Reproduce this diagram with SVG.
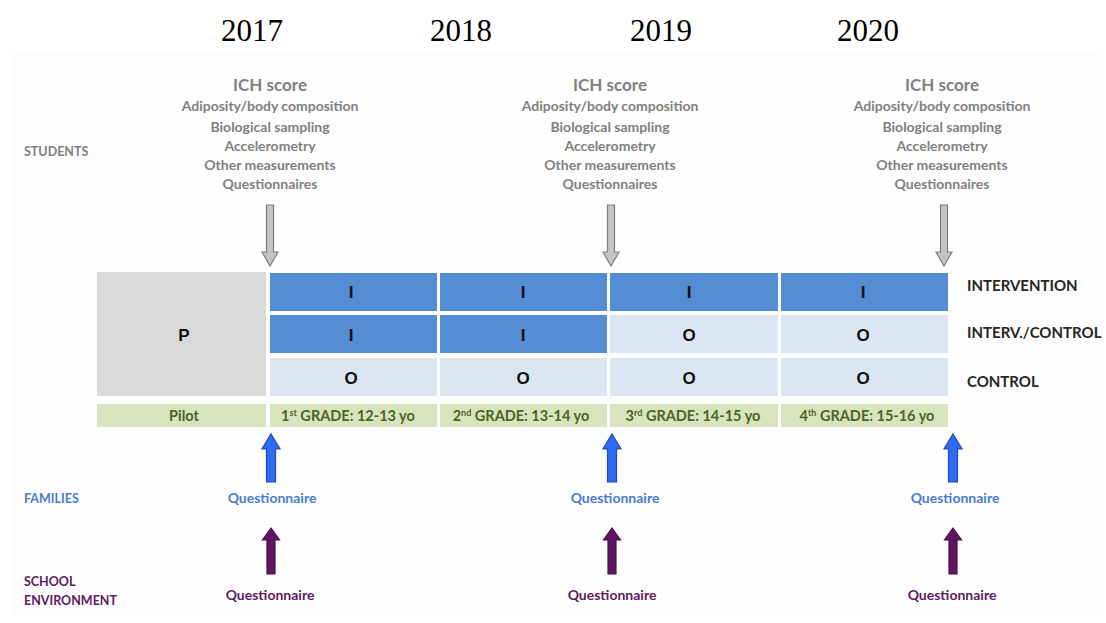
<svg xmlns="http://www.w3.org/2000/svg" width="1106" height="623" viewBox="0 0 1106 623">
<style>
.yr{font-family:"Liberation Serif","Times New Roman",serif;font-size:31px;fill:#000;text-anchor:middle}
.ich{font-family:Lato,"Liberation Sans",sans-serif;font-weight:bold;fill:#808080;text-anchor:middle}
.ich .h{font-size:17px}
.ich .l{font-size:14px}
.side{font-family:Lato,"Liberation Sans",sans-serif;font-weight:bold;font-size:12.5px}
.stu{fill:#7f7f7f}
.fam{fill:#4a7bd0}
.sch{fill:#5e1a5e}
.grp{font-family:Lato,"Liberation Sans",sans-serif;font-weight:bold;font-size:15px;fill:#262626}
.cell{font-family:"Liberation Sans",Arial,sans-serif;font-weight:bold;font-size:17px;fill:#111;text-anchor:middle}
.blue{fill:#548dd4}
.light{fill:#dce6f2}
.grey{fill:#d9d9d9}
.green{fill:#d7e4bd}
.gtxt{font-family:Lato,"Liberation Sans",sans-serif;font-weight:bold;font-size:14.5px;fill:#4f6228;text-anchor:middle}
.q{font-family:Lato,"Liberation Sans",sans-serif;font-weight:bold;font-size:14px;text-anchor:middle}
.ga{fill:#c4c4c4;stroke:#7f7f7f;stroke-width:1.2}
.ba{fill:#2f6cf2;stroke:#1f48b8;stroke-width:1.2}
.pa{fill:#5f1662;stroke:#4a0f4d;stroke-width:1.2}
</style>
<defs>
<path id="downArrow" d="M-3.5,-61 H3.5 V-14 H8 L0,0 L-8,-14 H-3.5 Z"/>
<path id="upBlue" d="M0,0 L9,15 H4.5 V48 H-4.5 V15 H-9 Z"/>
<path id="upPurple" d="M0,0 L8.5,12 H4 V46 H-4 V12 H-8.5 Z"/>
</defs>
<rect x="0" y="0" width="1106" height="623" fill="#ffffff"/>
<rect x="12" y="53" width="1090" height="563" fill="#fdfdfd"/>

<g id="years">
<text class="yr" x="252" y="41">2017</text>
<text class="yr" x="461" y="41">2018</text>
<text class="yr" x="661" y="41">2019</text>
<text class="yr" x="868" y="41">2020</text>
</g>

<g id="row-labels">
<text class="side stu" x="24" y="156">STUDENTS</text>
<text class="side fam" x="24" y="503">FAMILIES</text>
<text class="side sch" x="24" y="586">SCHOOL</text>
<text class="side sch" x="24" y="605">ENVIRONMENT</text>
</g>

<g id="measures-2017" class="ich">
<text class="h" x="270" y="91">ICH score</text>
<text class="l" x="270" y="111">Adiposity/body composition</text>
<text class="l" x="270" y="132">Biological sampling</text>
<text class="l" x="270" y="151">Accelerometry</text>
<text class="l" x="270" y="170">Other measurements</text>
<text class="l" x="270" y="189">Questionnaires</text>
</g>
<g id="measures-2019" class="ich">
<text class="h" x="610" y="91">ICH score</text>
<text class="l" x="610" y="111">Adiposity/body composition</text>
<text class="l" x="610" y="132">Biological sampling</text>
<text class="l" x="610" y="151">Accelerometry</text>
<text class="l" x="610" y="170">Other measurements</text>
<text class="l" x="610" y="189">Questionnaires</text>
</g>
<g id="measures-2020" class="ich">
<text class="h" x="942" y="91">ICH score</text>
<text class="l" x="942" y="111">Adiposity/body composition</text>
<text class="l" x="942" y="132">Biological sampling</text>
<text class="l" x="942" y="151">Accelerometry</text>
<text class="l" x="942" y="170">Other measurements</text>
<text class="l" x="942" y="189">Questionnaires</text>
</g>

<g id="pilot">
<rect class="grey" x="97" y="272" width="169" height="124"/>
<text class="cell" x="184" y="341">P</text>
<rect class="green" x="97" y="404" width="169" height="23"/>
<text class="gtxt" x="184" y="421">Pilot</text>
</g>

<g id="grade1">
<rect class="blue" x="270" y="273" width="167" height="38"/>
<text class="cell" x="351" y="298">I</text>
<rect class="blue" x="270" y="315" width="167" height="38"/>
<text class="cell" x="351" y="341">I</text>
<rect class="light" x="270" y="358" width="167" height="38"/>
<text class="cell" x="351" y="384">O</text>
<rect class="green" x="270" y="404" width="167" height="23"/>
<text class="gtxt" x="348" y="421">1<tspan font-size="9" dy="-5">st</tspan><tspan dy="5"> GRADE: 12-13 yo</tspan></text>
</g>

<g id="grade2">
<rect class="blue" x="440" y="273" width="167" height="38"/>
<text class="cell" x="523" y="298">I</text>
<rect class="blue" x="440" y="315" width="167" height="38"/>
<text class="cell" x="523" y="341">I</text>
<rect class="light" x="440" y="358" width="167" height="38"/>
<text class="cell" x="523" y="384">O</text>
<rect class="green" x="440" y="404" width="167" height="23"/>
<text class="gtxt" x="521" y="421">2<tspan font-size="9" dy="-5">nd</tspan><tspan dy="5"> GRADE: 13-14 yo</tspan></text>
</g>

<g id="grade3">
<rect class="blue" x="610" y="273" width="168" height="38"/>
<text class="cell" x="689" y="298">I</text>
<rect class="light" x="610" y="315" width="168" height="38"/>
<text class="cell" x="689" y="341">O</text>
<rect class="light" x="610" y="358" width="168" height="38"/>
<text class="cell" x="689" y="384">O</text>
<rect class="green" x="610" y="404" width="168" height="23"/>
<text class="gtxt" x="693" y="421">3<tspan font-size="9" dy="-5">rd</tspan><tspan dy="5"> GRADE: 14-15 yo</tspan></text>
</g>

<g id="grade4">
<rect class="blue" x="781" y="273" width="167" height="38"/>
<text class="cell" x="863" y="298">I</text>
<rect class="light" x="781" y="315" width="167" height="38"/>
<text class="cell" x="863" y="341">O</text>
<rect class="light" x="781" y="358" width="167" height="38"/>
<text class="cell" x="863" y="384">O</text>
<rect class="green" x="781" y="404" width="167" height="23"/>
<text class="gtxt" x="867" y="421">4<tspan font-size="9" dy="-5">th</tspan><tspan dy="5"> GRADE: 15-16 yo</tspan></text>
</g>

<g id="group-labels" class="grp">
<text x="967" y="291">INTERVENTION</text>
<text x="967" y="338">INTERV./CONTROL</text>
<text x="967" y="387">CONTROL</text>
</g>

<g id="families-q" class="q fam">
<text x="272" y="503">Questionnaire</text>
<text x="615" y="503">Questionnaire</text>
<text x="955" y="503">Questionnaire</text>
</g>
<g id="school-q" class="q sch">
<text x="270" y="600">Questionnaire</text>
<text x="612" y="600">Questionnaire</text>
<text x="952" y="600">Questionnaire</text>
</g>

<g id="connectors">
<use href="#downArrow" class="ga" transform="translate(270,266)"/>
<use href="#downArrow" class="ga" transform="translate(611,266)"/>
<use href="#downArrow" class="ga" transform="translate(944,266)"/>
<use href="#upBlue" class="ba" transform="translate(271,434)"/>
<use href="#upBlue" class="ba" transform="translate(612,434)"/>
<use href="#upBlue" class="ba" transform="translate(953,434)"/>
<use href="#upPurple" class="pa" transform="translate(271,528)"/>
<use href="#upPurple" class="pa" transform="translate(612,528)"/>
<use href="#upPurple" class="pa" transform="translate(953,528)"/>
</g>
</svg>
